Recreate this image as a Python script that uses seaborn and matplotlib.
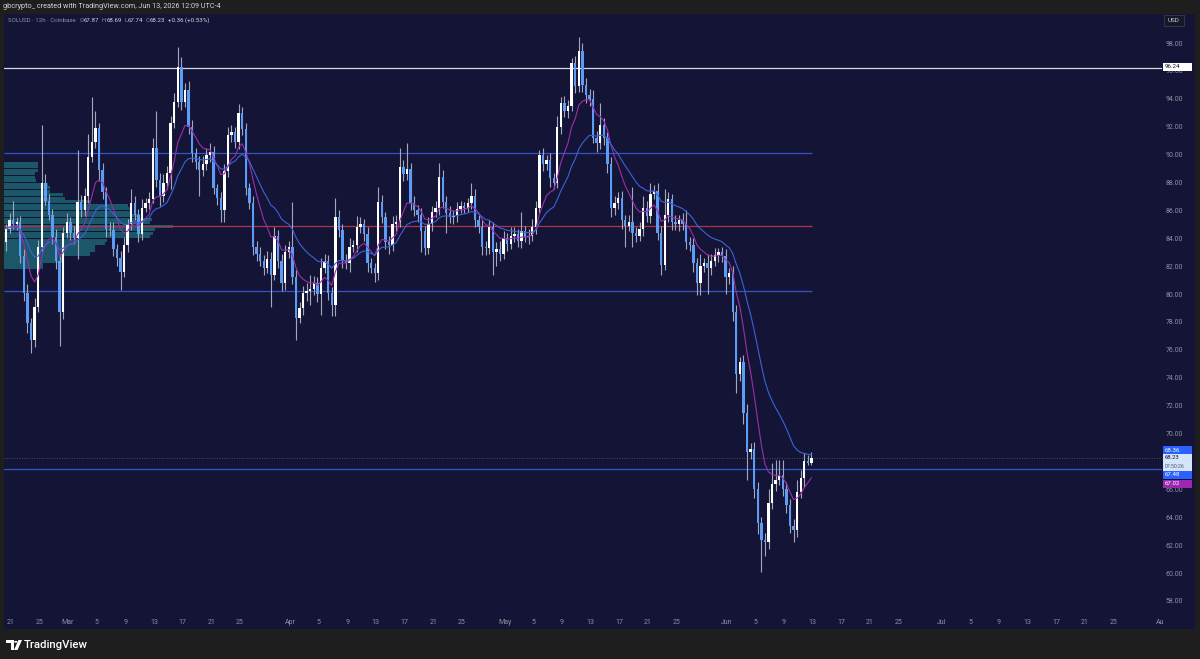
import numpy as np
import pandas as pd
import matplotlib
matplotlib.use("Agg")
import matplotlib.pyplot as plt
import matplotlib.patches as mpatches
import seaborn as sns

# ---------------- data ----------------
first_open = 83.7
closes = [
    84.7, 85.3, 85.0, 85.2, 82.7, 80.1, 77.9, 76.7, 79.1, 83.4,
    88.0, 86.7, 85.7, 84.1, 82.4, 78.7, 84.4, 85.2, 84.4, 84.0,
    86.6, 86.0, 87.0, 89.8, 90.9, 91.9, 88.9, 87.3, 84.7, 84.6,
    83.2, 82.6, 81.6, 83.5, 85.0, 86.5, 85.7, 84.3, 86.2, 86.5,
    86.8, 90.5, 88.2, 87.0, 88.0, 88.7, 92.3, 93.8, 96.3, 93.8,
    94.6, 92.0, 90.1, 89.5, 88.9, 89.3, 90.0, 90.2,
    87.6, 86.9, 86.0, 88.8, 91.4, 91.6, 90.9, 93.0, 91.8, 87.6,
    86.5, 83.4, 82.9, 82.4, 81.9, 82.5, 81.4, 84.2, 82.4, 80.8,
    83.0, 83.4, 81.2, 78.3, 79.0, 80.1, 80.2, 80.4, 80.8, 80.0,
    81.9, 82.4, 80.1, 79.2, 85.5, 84.6, 82.4, 82.2, 83.4, 83.5,
    84.8, 85.0, 84.3, 82.2, 81.9, 81.5, 86.6, 85.5, 83.7, 83.5,
    85.0, 85.2, 89.1, 88.6, 89.0, 86.5,
    86.0, 85.7, 84.5, 83.3, 85.0, 85.9, 86.2, 88.4, 86.6, 85.8,
    85.5, 85.6, 86.1, 86.3, 86.2, 86.5, 87.0, 85.3, 84.8, 83.4,
    83.3, 84.8, 83.0, 83.2, 82.9, 84.0, 83.6, 84.2, 84.3, 83.8,
    84.5, 84.1, 84.2, 84.8, 86.2, 90.0, 89.3, 89.6, 88.3, 88.0,
    92.0, 93.7, 93.1, 93.5, 96.6, 94.9, 97.4, 95.0, 94.3, 94.0,
    91.2, 90.8, 92.1, 91.2, 89.3, 86.2,
    86.5, 86.9, 85.3, 84.9, 85.2, 84.4, 84.2, 84.7, 86.2, 85.6,
    87.2, 87.4, 84.4, 82.1, 85.7, 86.8, 85.2, 85.0, 85.3, 85.0,
    83.7, 83.5, 82.2, 80.8, 82.0, 82.2, 81.9, 82.4, 82.8, 83.0,
    82.7, 81.2, 81.5, 78.7, 74.3, 75.1, 71.5, 68.7, 68.9, 66.0,
    63.6, 62.4, 62.2, 65.0, 66.4, 66.7, 67.0, 66.0, 64.9, 63.4,
    63.1, 65.8, 66.8, 68.0, 67.87, 68.23,
]
upper_wick = [
    0.3, 0.5, 1.4, 0.3, 0.4, 0.5, 0.6, 0.4, 0.6, 0.5,
    4.1, 0.6, 0.5, 0.4, 0.6, 0.5, 0.4, 0.6, 0.3, 0.5,
    3.7, 0.5, 0.6, 1.7, 3.2, 1.2, 0.4, 0.5, 0.4, 0.5,
    0.6, 0.4, 0.5, 0.6, 0.4, 1.0, 0.5, 0.4, 0.6, 0.4,
    0.5, 0.7, 2.6, 0.5, 0.6, 0.5, 0.5, 0.6, 1.4, 0.7,
    0.5, 0.7, 0.5, 0.4, 0.4, 0.6, 0.5, 0.6,
    0.4, 0.3, 0.4, 0.5, 0.6, 0.5, 0.4, 0.6, 0.4, 0.5,
    0.4, 0.5, 0.4, 0.5, 0.4, 0.6, 0.5, 0.6, 0.4, 0.5,
    0.5, 0.4, 3.2, 0.5, 0.4, 0.5, 0.6, 1.0, 0.5, 0.4,
    0.7, 0.5, 0.4, 0.4, 1.4, 0.5, 0.4, 0.5, 0.6, 0.4,
    0.8, 0.5, 0.4, 0.5, 0.4, 0.3, 1.1, 0.5, 0.4, 0.5,
    0.6, 0.5, 1.4, 0.5, 1.8, 0.4,
    0.5, 0.4, 0.5, 0.4, 0.5, 0.4, 0.5, 1.0, 0.5, 0.4,
    0.5, 0.4, 0.5, 0.4, 0.3, 0.4, 1.0, 0.5, 0.4, 0.5,
    0.4, 0.5, 0.4, 0.5, 0.6, 0.5, 0.4, 0.6, 0.5, 0.4,
    1.4, 0.4, 0.5, 0.6, 0.5, 0.3, 0.5, 0.4, 0.5, 0.4,
    0.8, 0.4, 0.5, 0.4, 0.3, 0.5, 1.0, 0.6, 0.5, 0.4,
    0.6, 0.5, 1.6, 0.5, 0.4, 0.5,
    0.5, 0.4, 0.5, 0.4, 0.5, 2.5, 0.4, 0.5, 0.8, 0.5,
    0.8, 0.4, 0.6, 0.5, 1.8, 0.5, 0.4, 0.5, 0.4, 0.5,
    1.0, 0.4, 0.5, 0.4, 0.9, 0.4, 0.7, 0.5, 0.5, 0.3,
    0.4, 0.5, 0.4, 0.5, 0.5, 0.4, 0.5, 0.6, 0.4, 0.5,
    0.5, 0.4, 0.5, 1.0, 1.5, 1.4, 1.1, 1.1, 0.5, 0.4,
    0.5, 0.9, 0.6, 0.6, 0.5, 0.46,
]
lower_wick = [
    0.6, 0.3, 0.3, 0.4, 0.5, 0.6, 0.7, 0.9, 0.5, 0.4,
    0.3, 0.3, 0.4, 0.5, 0.6, 2.4, 0.5, 0.4, 0.5, 0.4,
    1.5, 0.5, 0.4, 0.5, 0.3, 0.4, 0.8, 0.5, 0.6, 0.4,
    0.5, 0.6, 1.3, 0.4, 0.5, 0.4, 0.4, 0.6, 0.4, 0.3,
    0.4, 0.3, 0.5, 0.7, 0.4, 0.5, 1.2, 0.4, 0.4, 0.6,
    0.4, 0.5, 0.6, 0.5, 1.9, 0.4, 0.4, 0.5,
    0.4, 0.5, 0.8, 0.8, 0.4, 0.5, 0.4, 0.5, 0.4, 0.5,
    0.4, 0.6, 0.5, 0.4, 0.5, 0.4, 2.3, 0.4, 0.5, 0.6,
    0.5, 0.4, 0.5, 1.6, 0.4, 0.5, 0.6, 1.0, 0.5, 0.6,
    1.5, 0.4, 0.5, 0.8, 0.8, 0.5, 0.5, 0.4, 0.6, 0.4,
    0.5, 0.4, 0.5, 0.6, 0.4, 0.6, 0.5, 0.4, 0.5, 0.6,
    0.4, 0.5, 0.4, 0.5, 0.4, 0.5,
    0.4, 0.5, 1.5, 0.5, 0.4, 0.5, 0.4, 0.5, 0.4, 1.4,
    0.4, 0.5, 0.4, 0.3, 0.4, 0.3, 0.4, 0.5, 0.4, 0.6,
    0.5, 0.4, 1.6, 1.0, 0.5, 0.4, 0.5, 0.4, 0.5, 0.4,
    0.5, 0.4, 0.5, 0.4, 0.5, 0.4, 0.5, 0.4, 0.6, 0.5,
    0.4, 0.5, 0.4, 0.5, 0.4, 0.5, 0.4, 0.5, 0.6, 0.5,
    0.4, 0.6, 0.4, 0.5, 0.6, 0.7,
    0.5, 0.4, 0.6, 1.5, 0.4, 1.0, 0.5, 0.4, 0.5, 0.4,
    0.5, 0.4, 0.5, 0.7, 0.4, 0.5, 0.6, 0.4, 0.5, 0.4,
    0.5, 0.4, 0.6, 0.9, 0.9, 0.4, 1.9, 0.5, 0.4, 0.5,
    0.4, 1.2, 0.5, 0.6, 1.4, 0.5, 0.8, 2.0, 0.5, 0.6,
    0.8, 2.3, 1.0, 0.5, 0.4, 0.5, 0.4, 0.5, 0.6, 0.5,
    0.9, 0.5, 0.4, 0.6, 0.13, 0.13,
]

# volume profile (price bin centres and relative volume)
vp_prices = [81.875, 82.125, 82.375, 82.625, 82.875, 83.125, 83.375, 83.625,
             83.875, 84.125, 84.375, 84.625, 84.875, 85.125, 85.375, 85.625,
             85.875, 86.125, 86.375, 86.625, 86.875, 87.125, 87.375, 87.625,
             87.875, 88.125, 88.375, 88.625, 88.875, 89.125, 89.375]
vp_volume = [39, 39, 58, 59, 86, 91, 91, 101, 103, 146, 149, 151, 169, 146,
             148, 136, 126, 126, 124, 86, 61, 59, 46, 46, 44, 32, 31, 31, 34, 34, 34]

# horizontal levels
level_white = 96.24
levels_blue_short = [90.1, 80.2]
level_red = 84.87
level_blue_full = 67.48
last_price = 68.23

ytick_vals = list(range(58, 100, 2))
xtick_dates = ["2026-02-21", "2026-02-25", "2026-03-01", "2026-03-05", "2026-03-09",
               "2026-03-13", "2026-03-17", "2026-03-21", "2026-03-25", "2026-04-01",
               "2026-04-05", "2026-04-09", "2026-04-13", "2026-04-17", "2026-04-21",
               "2026-04-25", "2026-05-01", "2026-05-05", "2026-05-09", "2026-05-13",
               "2026-05-17", "2026-05-21", "2026-05-25", "2026-06-01", "2026-06-05",
               "2026-06-09", "2026-06-13", "2026-06-17", "2026-06-21", "2026-06-25",
               "2026-07-01", "2026-07-05", "2026-07-09", "2026-07-13", "2026-07-17",
               "2026-07-21", "2026-07-25", "2026-07-31 12:00"]
xtick_labels = ["21", "25", "Mar", "5", "9", "13", "17", "21", "25", "Apr",
                "5", "9", "13", "17", "21", "25", "May", "5", "9", "13",
                "17", "21", "25", "Jun", "5", "9", "13", "17", "21", "25",
                "Jul", "5", "9", "13", "17", "21", "25", "Au"]

# ---------------- styling ----------------
sns.set_theme(style="dark")
plt.rcParams["font.family"] = ["Roboto", "DejaVu Sans"]

BG = "#141437"
FRAME = "#1e1e1e"
BULL = "#ffffff"
BEAR = "#5b9cf6"
WICK = "#a2a7bb"
PURPLE = "#9c2fa8"
BLUE_MA = "#3d62d6"
LINE_BLUE = "#2f55c8"
LINE_RED = "#b03448"
TXT = "#8d90a3"

W, H = 1200, 659
def fx(px):
    return px / W
def fy(py):
    return 1 - py / H

fig = plt.figure(figsize=(12, 6.59), dpi=100)
fig.patch.set_facecolor(FRAME)
fig.add_artist(mpatches.Rectangle((fx(4), fy(629)), fx(1195) - fx(4), fy(14) - fy(629),
                                  transform=fig.transFigure, facecolor=BG,
                                  edgecolor="none", zorder=0))
ax = fig.add_axes([fx(4), fy(612), fx(1162) - fx(4), fy(14) - fy(612)])
ax.set_facecolor(BG)
for s in ax.spines.values():
    s.set_visible(False)
ax.grid(False)

base = pd.Timestamp("2026-02-20 00:00")
times = pd.date_range("2026-02-20 08:00", periods=len(closes), freq="12h")
xs = np.array([(t - base) / pd.Timedelta(days=1) for t in times])

c = np.array(closes)
o = np.concatenate([[first_open], c[:-1]])
hi = np.maximum(o, c) + np.array(upper_wick)
lo = np.minimum(o, c) - np.array(lower_wick)
bull = c >= o

# volume profile
vp_max_days = 23.6
vp_len = np.array(vp_volume) / max(vp_volume) * vp_max_days
ax.barh(vp_prices, vp_len, left=0.06, height=0.22, color="#1d5a6c", alpha=0.95,
        edgecolor="none", zorder=1)

# levels
x_end_short = 112.9
ax.axhline(level_white, color="#d6d6df", lw=0.9, zorder=2)
for lv in levels_blue_short:
    ax.hlines(lv, 0.06, x_end_short, color=LINE_BLUE, lw=0.9, zorder=2)
ax.hlines(level_red, 0.06, x_end_short, color=LINE_RED, lw=0.9, zorder=2)
ax.axhline(level_blue_full, color=LINE_BLUE, lw=0.9, zorder=2)
ax.axhline(last_price, color="#56607e", lw=0.6, ls=(0, (1, 2)), zorder=2)

# candles
ax.vlines(xs, lo, hi, color=WICK, lw=0.8, zorder=3)
body_h = np.maximum(np.abs(c - o), 0.06)
ax.bar(xs, body_h, bottom=np.minimum(o, c), width=0.33,
       color=np.where(bull, BULL, BEAR), edgecolor="none", zorder=4)

# moving averages
ema_fast = pd.Series(c).ewm(span=9, adjust=False).mean()
ema_slow = pd.Series(c).ewm(span=21, adjust=False).mean()
sns.lineplot(x=xs, y=ema_fast.values, ax=ax, color=PURPLE, lw=0.8, zorder=5)
sns.lineplot(x=xs, y=ema_slow.values, ax=ax, color=BLUE_MA, lw=0.8, zorder=5)

ax.set_xlim(0.06, 161.79)
ax.set_ylim(57.21, 100.08)

# axes ticks
ax.yaxis.tick_right()
ax.set_yticks(ytick_vals)
ax.set_yticklabels([f"{v:.2f}" for v in ytick_vals])
xt = [(pd.Timestamp(d) - base) / pd.Timedelta(days=1) for d in xtick_dates]
ax.set_xticks(xt)
ax.set_xticklabels(xtick_labels)
ax.tick_params(axis="both", length=0, colors=TXT, labelsize=5)
ax.tick_params(axis="y", pad=2.5)
ax.tick_params(axis="x", pad=5)
ax.set_xlabel("")
ax.set_ylabel("")

# price-axis boxes
def rect(py_top, py_bot, fc):
    fig.add_artist(mpatches.Rectangle((fx(1163), fy(py_bot)), fx(1192) - fx(1163),
                                      (py_bot - py_top) / H, transform=fig.transFigure,
                                      facecolor=fc, edgecolor="none", zorder=10))

def box(py, text, fc, tc):
    rect(py - 4, py + 4, fc)
    fig.text(fx(1165), fy(py), text, color=tc, fontsize=4.4, va="center", ha="left", zorder=11)

box(67, "96.24", "#ffffff", "#131722")
box(450, "68.36", "#2962ff", "#ffffff")
rect(454, 470.5, "#d4e4fb")
fig.text(fx(1165), fy(457.8), "68.23", color="#131722", fontsize=4.2, va="center", zorder=11)
fig.text(fx(1165), fy(466.2), "07:50:26", color="#4a5170", fontsize=3.7, va="center", zorder=11)
box(474.5, "67.48", "#2962ff", "#ffffff")
box(483.5, "67.02", "#9c27b0", "#ffffff")

# USD box
fig.add_artist(mpatches.Rectangle((fx(1164), fy(26)), fx(1184) - fx(1164), 11 / H,
                                  transform=fig.transFigure, facecolor="#17172a",
                                  edgecolor="#3a3a4e", lw=0.6, zorder=10))
fig.text(fx(1168), fy(20.5), "USD", color="#c8cad6", fontsize=4.6, va="center", zorder=11)

# header
fig.text(fx(3), fy(7), "gbcrypto_ created with TradingView.com, Jun 13, 2026 12:09 UTC-4",
         color="#d1d4dc", fontsize=5.2, va="center")

# legend, laid out piece by piece
legend_parts = [
    ("SOLUSD · 12h · Coinbase", TXT, 3.5),
    ("O", TXT, 0.3), ("67.87", "#d1d4dc", 2.5),
    ("H", TXT, 0.3), ("68.69", "#d1d4dc", 2.5),
    ("L", TXT, 0.3), ("67.74", "#d1d4dc", 2.5),
    ("C", TXT, 0.3), ("68.23", "#d1d4dc", 2.5),
    ("+0.36 (+0.53%)", "#d1d4dc", 0),
]
renderer = fig.canvas.get_renderer()
cur = 8.0
for t, col, gap in legend_parts:
    tx = fig.text(fx(cur), fy(20), t, color=col, fontsize=4.4, va="center")
    bb = tx.get_window_extent(renderer=renderer)
    cur += bb.width + gap

# TradingView logo
logo_col = "#ffffff"
fig.add_artist(mpatches.Polygon([(fx(6), fy(640)), (fx(13.5), fy(640)), (fx(13.5), fy(650)),
                                 (fx(10.5), fy(650)), (fx(10.5), fy(643)), (fx(6), fy(643))],
                                closed=True, transform=fig.transFigure, facecolor=logo_col,
                                edgecolor="none"))
fig.add_artist(mpatches.Circle((fx(15.8), fy(641.8)), 1.7 / W, transform=fig.transFigure,
                               facecolor=logo_col, edgecolor="none"))
fig.add_artist(mpatches.Polygon([(fx(18.5), fy(640)), (fx(22), fy(640)), (fx(17.5), fy(650)),
                                 (fx(14), fy(650))], closed=True, transform=fig.transFigure,
                                facecolor=logo_col, edgecolor="none"))
fig.text(fx(24), fy(645.5), "TradingView", color=logo_col, fontsize=8.2,
         va="center", fontweight="medium")

fig.savefig("out.png", dpi=100, facecolor=FRAME)
